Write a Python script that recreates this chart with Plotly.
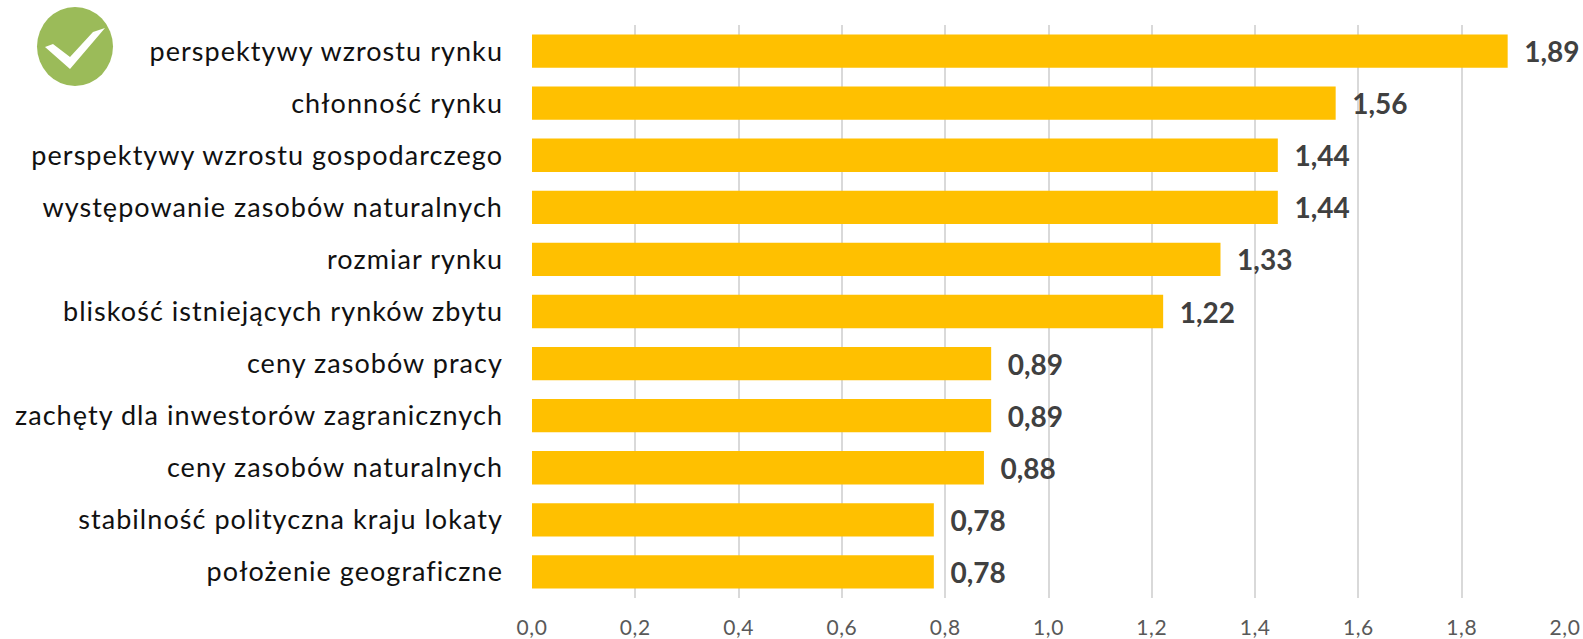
import plotly.graph_objects as go

categories = ["perspektywy wzrostu rynku", "chłonność rynku", "perspektywy wzrostu gospodarczego",
              "występowanie zasobów naturalnych", "rozmiar rynku", "bliskość istniejących rynków zbytu",
              "ceny zasobów pracy", "zachęty dla inwestorów zagranicznych", "ceny zasobów naturalnych",
              "stabilność polityczna kraju lokaty", "położenie geograficzne"]
values = [1.889, 1.556, 1.444, 1.444, 1.333, 1.222, 0.889, 0.889, 0.875, 0.778, 0.778]
value_labels = ["1,89", "1,56", "1,44", "1,44", "1,33", "1,22", "0,89", "0,89", "0,88", "0,78", "0,78"]
tick_values = [0, 0.2, 0.4, 0.6, 0.8, 1.0, 1.2, 1.4, 1.6, 1.8, 2.0]
tick_labels = ["0,0", "0,2", "0,4", "0,6", "0,8", "1,0", "1,2", "1,4", "1,6", "1,8", "2,0"]

W, H = 1583, 639
L, R, T, B = 532, 18, 25, 41
FONT = "Lato, Carlito, sans-serif"

fig = go.Figure(go.Bar(
    y=categories, x=values, orientation="h", width=0.64,
    marker=dict(color="#FFC000", line=dict(width=0)),
    text=["\u00a0\u00a0" + t for t in value_labels], textposition="outside", cliponaxis=False,
    constraintext="none",
    textfont=dict(family=FONT, size=28, color="#404040", weight="bold"),
))

# badge in the top-left corner
fig.add_shape(type="circle", xref="paper", yref="paper",
              x0=(37 - L) / (W - L - R), x1=(113 - L) / (W - L - R),
              y0=(H - B - 86) / (H - T - B), y1=(H - B - 7) / (H - T - B),
              fillcolor="#9BBB59", line=dict(width=0), layer="above")
pts = [(45, 47), (53, 44), (70, 57), (93, 32), (105, 28), (70, 69)]
path = "M " + " L ".join(f"{(x - L) / (W - L - R):.5f} {(H - B - y) / (H - T - B):.5f}" for x, y in pts) + " Z"
fig.add_shape(type="path", xref="paper", yref="paper", path=path,
              fillcolor="#FFFFFF", line=dict(width=0), layer="above")

fig.update_layout(
    width=W, height=H, autosize=False,
    margin=dict(l=L, r=R, t=T, b=B, autoexpand=False),
    paper_bgcolor="white", plot_bgcolor="white",
    showlegend=False,
    font=dict(family=FONT),
    xaxis=dict(range=[0, 2.0], tickmode="array", tickvals=tick_values, ticktext=tick_labels,
               automargin=False,
               showgrid=True, gridcolor="#D9D9D9", gridwidth=2, zeroline=False, showline=False,
               ticks="", ticklabelstandoff=15,
               tickfont=dict(family=FONT, size=21, color="#595959")),
    yaxis=dict(autorange="reversed", automargin=False, showgrid=False, zeroline=False, showline=False,
               ticks="", ticklabelstandoff=28,
               tickfont=dict(family=FONT, size=27, color="#111111")),
)
post = """
document.body.style.margin='0';
document.querySelectorAll('.ytick text').forEach(function(t){t.style.letterSpacing='1.05px';});
document.querySelectorAll('.xtick text').forEach(function(t){t.style.letterSpacing='0.6px';});
"""
fig.write_html("out.html", post_script=post, config={"displayModeBar": False})
